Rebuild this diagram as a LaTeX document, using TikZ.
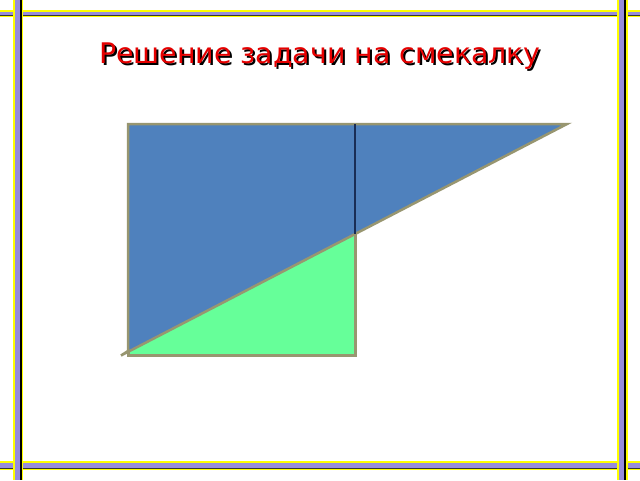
\documentclass[tikz,border=0pt]{standalone}
\usepackage{fontspec}
\setmainfont{DejaVu Sans}
\definecolor{frameyellow}{RGB}{255,255,0}
\definecolor{framepurple}{RGB}{150,140,220}
\definecolor{blueshape}{RGB}{79,129,189}
\definecolor{greenshape}{RGB}{102,255,153}
\definecolor{edgekhaki}{RGB}{152,150,112}
\definecolor{darkedge}{RGB}{25,45,85}
\definecolor{titlered}{RGB}{230,0,0}
\tikzset{
  titletext/.style={font=\fontsize{28.4}{34}\selectfont, inner sep=0pt, anchor=base},
}
\newcommand{\shadowtext}[1]{\makebox[0pt][l]{\kern2pt\raisebox{-2pt}{\color{black}#1}}\textcolor{titlered}{#1}}
\begin{document}
\begin{tikzpicture}[x=1pt,y=-1pt]
\useasboundingbox (0,0) rectangle (640,480);
\fill[white] (0,0) rectangle (640,480);
% horizontal bands
\fill[frameyellow] (0,10) rectangle (640,17);
\fill[framepurple] (0,12) rectangle (640,15);
\draw[black!80, line width=0.7pt] (0,15) -- (640,15);
\fill[frameyellow] (0,461) rectangle (640,470);
\fill[framepurple] (0,463) rectangle (640,468);
\draw[black!80, line width=0.7pt] (0,468) -- (640,468);
% vertical bands
\fill[frameyellow] (13,0) rectangle (23,480);
\fill[framepurple] (15,0) rectangle (20,480);
\fill[black] (20,0) rectangle (21.5,480);
\fill[frameyellow] (617,0) rectangle (628,480);
\fill[framepurple] (619,0) rectangle (624,480);
\fill[black] (624,0) rectangle (626,480);
% title
\node[titletext] (title) at (320,63) {\shadowtext{Решение задачи на смекалку}};
% shapes
\coordinate (A) at (128,124);
\coordinate (B) at (355,124);
\coordinate (C) at (355,355);
\coordinate (D) at (128,355);
\coordinate (E) at (567,124);
\coordinate (F) at (121,355.5);
\coordinate (G) at (128,351);
\coordinate (M) at (355,234);
\draw[edgekhaki, line width=3pt, fill=greenshape] (A) -- (B) -- (C) -- (D) -- cycle;
\draw[edgekhaki, line width=2.5pt, fill=blueshape, line join=miter] (A) -- (E) -- (F) -- (G) -- cycle;
\draw[darkedge, line width=1.5pt] (B) -- (M);
\end{tikzpicture}
\end{document}
